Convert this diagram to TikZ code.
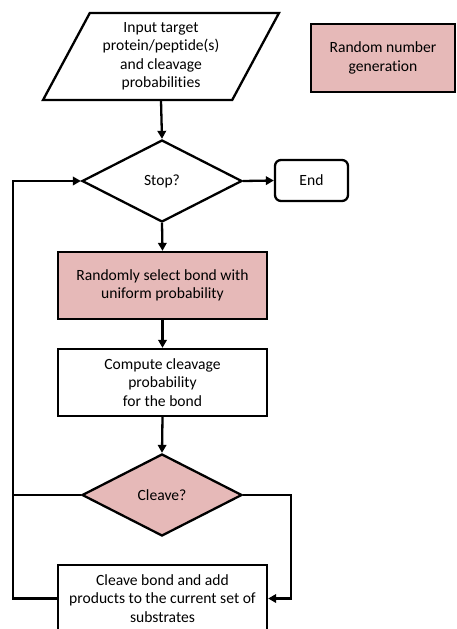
\documentclass[tikz,border=0pt]{standalone}
\usepackage{fontspec}
\setmainfont{Carlito}[Ligatures={NoCommon}]
\usepackage{tikz}
\usetikzlibrary{shapes.geometric,arrows.meta}

\definecolor{rosefill}{HTML}{E6B9B8}

\begin{document}
\begin{tikzpicture}[x=1pt, y=-1pt,
    every node/.style={font=\fontsize{15.6}{18.5}\selectfont, align=center},
    box/.style={draw, line width=2.3pt, rectangle, minimum width=209pt, minimum height=67pt, inner sep=2pt},
    hot/.style={fill=rosefill},
    decision/.style={draw, line width=2.3pt, diamond, aspect=1.95, minimum width=160pt, minimum height=82pt, inner sep=0pt},
    inbox/.style={draw, line width=2.3pt, trapezium, trapezium left angle=60.6, trapezium right angle=119.4,
        trapezium stretches=true, minimum width=236pt, minimum height=87pt, inner sep=0pt},
    link/.style={line width=2.3pt},
    arr/.style={link, -{Triangle[length=8pt, width=8.5pt]}}]
    \useasboundingbox (0,0) rectangle (456,629);

    % Input and the side legend box
    \node[inbox] (input) at (161,56.5) {Input target\\protein/peptide(s)\\and cleavage\\probabilities};
    \node[box, hot, minimum width=144pt, minimum height=68pt] (rng) at (383,58) {Random number\\generation};

    % Main column
    \node[decision] (stop) at (162,181) {Stop?};
    \node[draw, line width=2.3pt, rounded corners=6pt, minimum width=73pt, minimum height=41pt] (end) at (311.5,180.5) {End};
    \node[box, hot] (select) at (162.5,285.5) {Randomly select bond with\\uniform probability};
    \node[box] (compute) at (162.5,382.5) {Compute cleavage\\probability\\for the bond};
    \node[decision, hot] (cleave) at (162,495) {Cleave?};
    \node[box] (split) at (162.5,598.5) {Cleave bond and add\\products to the current set of\\substrates};

    % Turning points of the loops
    \coordinate (lft) at (13,598.5);
    \coordinate (rgt) at (291,598.5);

    % Connectors
    \draw[arr] (input.south) -- (stop.north);
    \draw[arr] (stop.east) -- (end.west);
    \draw[arr] (stop.south) -- (select.north);
    \draw[arr] (select.south) -- (compute.north);
    \draw[arr] (compute.south) -- (cleave.north);
    \draw[arr] (cleave.east) -| (rgt) -- (split.east);
    \draw[link] (cleave.west) -- (lft |- cleave.west);
    \draw[arr] (split.west) -- (lft) |- (stop.west);
\end{tikzpicture}
\end{document}
